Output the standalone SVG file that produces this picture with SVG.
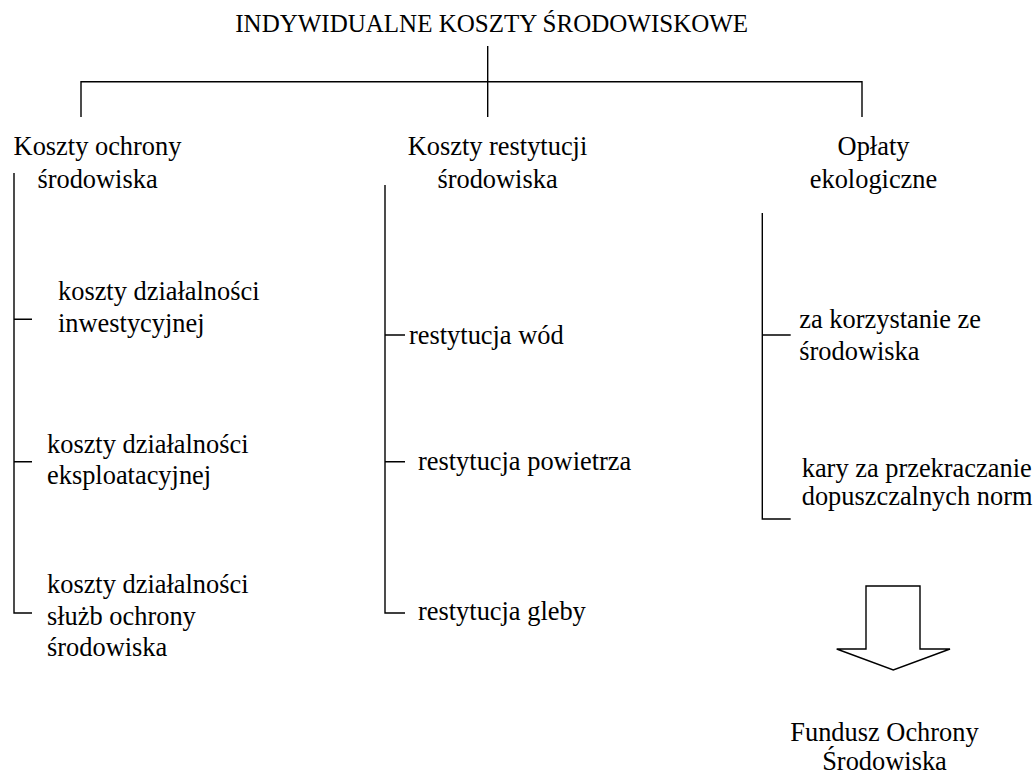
<svg xmlns="http://www.w3.org/2000/svg" width="1035" height="776" viewBox="0 0 1035 776">
<style>
text{font-family:"Liberation Serif","Times New Roman",serif;font-size:26.4px;fill:#000}
.t{font-size:25px;text-anchor:middle}
.c{text-anchor:middle}
.ln{stroke:#000;stroke-width:1.4;fill:none}
</style>
<rect width="1035" height="776" fill="#fff"/>
<g id="connectors" class="ln">
<path d="M487.7 46V117M81 117V81.7H862V117"/>
<path d="M14 173V613H32M14 319.3H32M14 461.7H32"/>
<path d="M385 185V613H405M385 335H405M385 461.7H405"/>
<path d="M762.3 213V519H790.7M762.3 335H790.7"/>
<polygon points="866,586 920,586 920,649 950,649 893.3,670 836.7,649 866,649"/>
</g>
<g id="root"><text class="t" x="491.7" y="32">INDYWIDUALNE KOSZTY ŚRODOWISKOWE</text></g>
<g id="koszty-ochrony"><text class="c" x="97.5" y="155">Koszty ochrony</text><text class="c" x="97.5" y="188">środowiska</text></g>
<g id="koszty-restytucji"><text class="c" x="497.5" y="155">Koszty restytucji</text><text class="c" x="497.5" y="188">środowiska</text></g>
<g id="oplaty"><text class="c" x="873.5" y="155">Opłaty</text><text class="c" x="873.5" y="188">ekologiczne</text></g>
<g id="inwestycyjnej"><text x="58" y="300">koszty działalności</text><text x="58" y="332">inwestycyjnej</text></g>
<g id="eksploatacyjnej"><text x="47" y="453">koszty działalności</text><text x="47" y="484">eksploatacyjnej</text></g>
<g id="sluzb"><text x="47" y="593">koszty działalności</text><text x="47" y="625">służb ochrony</text><text x="47" y="656">środowiska</text></g>
<g id="wod"><text x="409" y="344">restytucja wód</text></g>
<g id="powietrza"><text x="418" y="470">restytucja powietrza</text></g>
<g id="gleby"><text x="418" y="620">restytucja gleby</text></g>
<g id="korzystanie"><text x="799.3" y="328">za korzystanie ze</text><text x="799.3" y="360">środowiska</text></g>
<g id="kary"><text x="801.7" y="477">kary za przekraczanie</text><text x="801.7" y="505">dopuszczalnych norm</text></g>
<g id="fundusz"><text class="c" x="884.5" y="741">Fundusz Ochrony</text><text class="c" x="884.5" y="770">Środowiska</text></g>
</svg>
